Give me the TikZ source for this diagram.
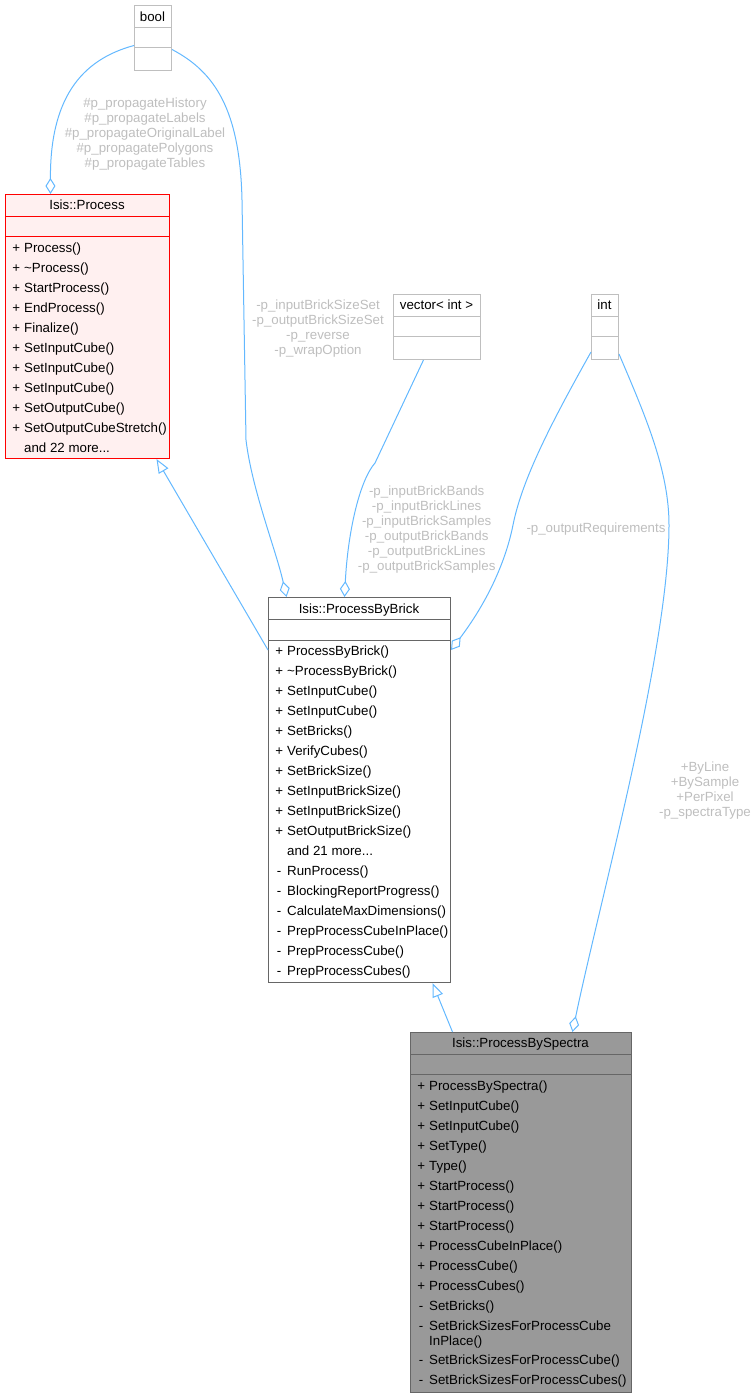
\documentclass[tikz,border=0pt]{standalone}
\usepackage{fontspec}
\setmainfont{Liberation Sans}
\usepackage{tikz}
\usetikzlibrary{arrows.meta, calc}
\definecolor{edgeblue}{HTML}{63B8FF}
\definecolor{lblgrey}{HTML}{BEBEBE}
\definecolor{procfill}{HTML}{FFF0F0}
\definecolor{procdraw}{HTML}{FF0000}
\definecolor{brickdraw}{HTML}{666666}
\definecolor{specfill}{HTML}{999999}
\definecolor{typedraw}{HTML}{BFBFBF}
\newcommand{\umlfont}{\fontsize{13.3}{15}\selectfont}
\newcommand{\andmore}[1]{and #1 more...}

\begin{document}
\begin{tikzpicture}[
  x=1pt, y=-1pt,
  cls/.style={rectangle, line width=1pt, inner sep=0pt, anchor=north west},
  typebox/.style={cls, draw=typedraw, fill=white},
  procbox/.style={cls, draw=procdraw, fill=procfill},
  brickbox/.style={cls, draw=brickdraw, fill=white},
  specbox/.style={cls, draw=brickdraw, fill=specfill},
  sep/.style={line width=1pt},
  head/.style={anchor=base, inner sep=0pt, font=\umlfont},
  member/.style={anchor=base west, inner sep=0pt, font=\umlfont},
  lbl/.style={align=center, inner sep=0pt, font=\umlfont, text=lblgrey},
  agg/.style={edgeblue, line width=1pt, -{Diamond[open, length=16pt, width=10pt]}},
  inh/.style={edgeblue, line width=1pt, -{Triangle[open, length=14pt, width=11pt]}}
]
  \useasboundingbox (0,0) rectangle (755,1397);

  % plain types
  \node[typebox, minimum width=37pt, minimum height=65pt] (boolT) at (134,5) {};
  \draw[sep, typedraw] (boolT.west |- 0,28) -- (boolT.east |- 0,28);
  \draw[sep, typedraw] (boolT.west |- 0,48) -- (boolT.east |- 0,48);
  \node[head] (boolH) at (152.5,21.2) {bool};

  \node[typebox, minimum width=87pt, minimum height=65pt] (vecT) at (393,294) {};
  \draw[sep, typedraw] (vecT.west |- 0,316) -- (vecT.east |- 0,316);
  \draw[sep, typedraw] (vecT.west |- 0,336) -- (vecT.east |- 0,336);
  \node[head] (vecH) at (436.5,309.7) {vector< int >};

  \node[typebox, minimum width=27pt, minimum height=65pt] (intT) at (591,294) {};
  \draw[sep, typedraw] (intT.west |- 0,316) -- (intT.east |- 0,316);
  \draw[sep, typedraw] (intT.west |- 0,336) -- (intT.east |- 0,336);
  \node[head] (intH) at (604.5,309.7) {int};

  % Isis::Process
  \node[procbox, minimum width=164pt, minimum height=264pt] (process) at (5,194) {};
  \draw[sep, procdraw] (process.west |- 0,216) -- (process.east |- 0,216);
  \draw[sep, procdraw] (process.west |- 0,236) -- (process.east |- 0,236);
  \node[head] (processH) at (87,209.7) {Isis::Process};
  \foreach \v/\m [count=\i from 0] in {+/Process(), +/\textasciitilde Process(),
      +/StartProcess(), +/EndProcess(), +/Finalize(), +/SetInputCube(),
      +/SetInputCube(), +/SetInputCube(), +/SetOutputCube(),
      +/SetOutputCubeStretch(), /\andmore{22}}
    \node[member] (pm-\i) at (12,252.7+20*\i) {\makebox[8pt][c]{\v}\hspace{4pt}\m};

  % Isis::ProcessByBrick
  \node[brickbox, minimum width=182pt, minimum height=385pt] (brick) at (268,597) {};
  \draw[sep, brickdraw] (brick.west |- 0,619.3) -- (brick.east |- 0,619.3);
  \draw[sep, brickdraw] (brick.west |- 0,640) -- (brick.east |- 0,640);
  \node[head] (brickH) at (359,613) {Isis::ProcessByBrick};
  \foreach \v/\m [count=\i from 0] in {+/ProcessByBrick(),
      +/\textasciitilde ProcessByBrick(), +/SetInputCube(), +/SetInputCube(),
      +/SetBricks(), +/VerifyCubes(), +/SetBrickSize(), +/SetInputBrickSize(),
      +/SetInputBrickSize(), +/SetOutputBrickSize(), /\andmore{21},
      -/RunProcess(), -/BlockingReportProgress(), -/CalculateMaxDimensions(),
      -/PrepProcessCubeInPlace(), -/PrepProcessCube(), -/PrepProcessCubes()}
    \node[member] (bm-\i) at (275,655.7+20*\i) {\makebox[8pt][c]{\v}\hspace{4pt}\m};

  % Isis::ProcessBySpectra
  \node[specbox, minimum width=221pt, minimum height=360pt] (spectra) at (410,1032) {};
  \draw[sep, brickdraw] (spectra.west |- 0,1054) -- (spectra.east |- 0,1054);
  \draw[sep, brickdraw] (spectra.west |- 0,1074.3) -- (spectra.east |- 0,1074.3);
  \node[head] (spectraH) at (520.5,1047.5) {Isis::ProcessBySpectra};
  \foreach \v/\m [count=\i from 0] in {+/ProcessBySpectra(), +/SetInputCube(),
      +/SetInputCube(), +/SetType(), +/Type(), +/StartProcess(),
      +/StartProcess(), +/StartProcess(), +/ProcessCubeInPlace(),
      +/ProcessCube(), +/ProcessCubes(), -/SetBricks()}
    \node[member] (sm-\i) at (417,1090.7+20*\i) {\makebox[8pt][c]{\v}\hspace{4pt}\m};
  \node[member] (sm-12) at (417,1330.7) {\makebox[8pt][c]{-}\hspace{4pt}SetBrickSizesForProcessCube};
  \node[member] (sm-12b) at (429,1345.6) {InPlace()};
  \node[member] (sm-13) at (417,1364.7) {\makebox[8pt][c]{-}\hspace{4pt}SetBrickSizesForProcessCube()};
  \node[member] (sm-14) at (417,1384.7) {\makebox[8pt][c]{-}\hspace{4pt}SetBrickSizesForProcessCubes()};

  % connectors
  \draw[agg] ([yshift=-7.5pt]boolT.west) .. controls (80,60) and (50,100)
    .. ([xshift=-37pt]process.north);
  \draw[agg] ([yshift=-11.5pt]boolT.east) .. controls (215,72) and (240,110)
    .. (242,200) -- (246,440) .. controls (252,490) and (276,550)
    .. ([xshift=-73pt]brick.north);
  \draw[agg] ([xshift=-13.5pt]vecT.south) -- (375,463)
    .. controls (360,480) and (348,530) .. ([xshift=-15pt]brick.north);
  \draw[agg] ([yshift=8pt]intT.south west) .. controls (550,425) and (522,480)
    .. (513,525) .. controls (505,565) and (485,605)
    .. ([yshift=-53pt]brick.north east);
  \draw[agg] ([yshift=6pt]intT.south east) .. controls (645,415) and (669,470)
    .. (669,525) .. controls (669,650) and (600,900)
    .. ([xshift=51.5pt]spectra.north);
  \draw[inh] ([yshift=-53pt]brick.north west) -- ([xshift=69pt]process.south);
  \draw[inh] ([xshift=-68.5pt]spectra.north) -- ([xshift=73pt]brick.south);

  % connector labels
  \node[lbl] (boolLbl) at (145,133.7) {\#p\_propagateHistory\\\#p\_propagateLabels\\
    \#p\_propagateOriginalLabel\\\#p\_propagatePolygons\\\#p\_propagateTables};
  \node[lbl] (sizeLbl) at (318,328.5) {-p\_inputBrickSizeSet\\-p\_outputBrickSizeSet\\
    -p\_reverse\\-p\_wrapOption};
  \node[lbl] (vecLbl) at (426.7,530) {-p\_inputBrickBands\\-p\_inputBrickLines\\
    -p\_inputBrickSamples\\-p\_outputBrickBands\\-p\_outputBrickLines\\
    -p\_outputBrickSamples};
  \node[lbl] (reqLbl) at (596,529) {-p\_outputRequirements};
  \node[lbl] (typeLbl) at (705,791) {+ByLine\\+BySample\\+PerPixel\\-p\_spectraType};
\end{tikzpicture}
\end{document}
